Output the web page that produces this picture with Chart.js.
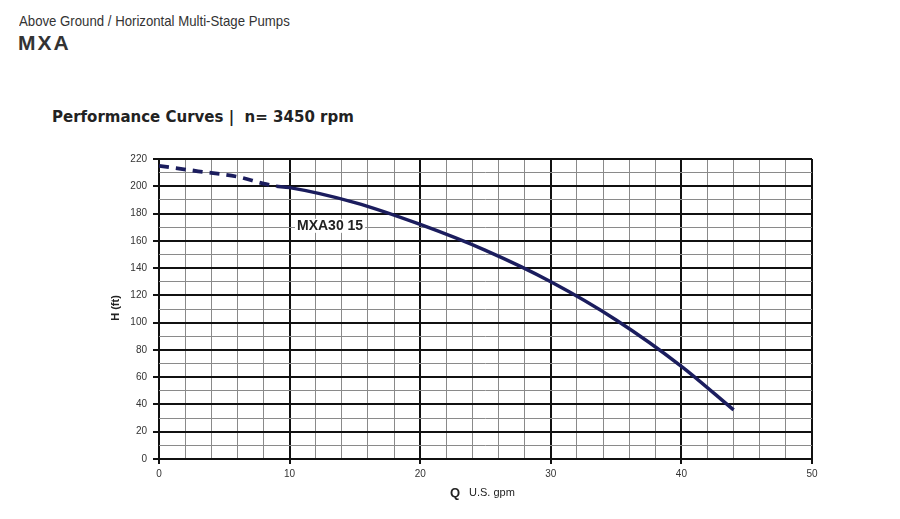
<!DOCTYPE html>
<html>
<head>
<meta charset="utf-8">
<script src="https://cdn.jsdelivr.net/npm/chart.js@4"></script>
<style>
  body { margin: 0; background: #fff; }
  #wrap { position: relative; width: 900px; height: 519px; }
  .hdr { position: absolute; color: #222; white-space: nowrap; }
  #sub { left: 19px; top: 12px; font: 15px "Liberation Sans", sans-serif; color: #333; transform: scaleX(0.88); transform-origin: left top; }
  #model { left: 18px; top: 31px; font: bold 21px "Liberation Sans", sans-serif; color: #333; letter-spacing: 2px; }
  #perf { left: 52px; top: 108px; font: 600 15px "DejaVu Sans", sans-serif; color: #222; }
  canvas { position: absolute; left: 0; top: 0; }
</style>
</head>
<body>
<div id="wrap">
  <div class="hdr" id="sub">Above Ground / Horizontal Multi-Stage Pumps</div>
  <div class="hdr" id="model">MXA</div>
  <div class="hdr" id="perf">Performance Curves |&nbsp; n= 3450 rpm</div>
  <canvas id="myChart" width="900" height="519"></canvas>
</div>
<script>
// flow (U.S. gpm) and head (ft)
const dashedQ = [0, 3, 6, 8, 9];
const dashedH = [215, 211, 207, 202, 200];
const solidQ = [9, 10, 15, 20, 25, 30, 35, 40, 44];
const solidH = [200, 199, 188, 172, 153, 130, 102, 68, 36];

const curveName = 'MXA30 15';
const curveLabelAt = [13.1, 171];

const navy = '#1b1d5e';

function toPoints(xs, ys) {
  return xs.map(function (x, i) { return { x: x, y: ys[i] }; });
}

// chart labels drawn on the canvas
const extras = {
  id: 'extras',
  afterDraw: function (chart) {
    const ctx = chart.ctx;
    const sx = chart.scales.x, sy = chart.scales.y;
    ctx.save();

    // curve name with white box
    const px = sx.getPixelForValue(curveLabelAt[0]);
    const py = sy.getPixelForValue(curveLabelAt[1]);
    ctx.font = 'bold 14px "Liberation Sans", Arial, sans-serif';
    const w = ctx.measureText(curveName).width;
    ctx.fillStyle = '#fff';
    ctx.fillRect(px - w / 2 - 2, py - 7, w + 4, 14);
    ctx.fillStyle = '#222';
    ctx.textAlign = 'center';
    ctx.textBaseline = 'middle';
    ctx.fillText(curveName, px, py);

    // x title
    ctx.textAlign = 'left';
    ctx.textBaseline = 'alphabetic';
    ctx.font = 'bold 13px "Liberation Sans", Arial, sans-serif';
    ctx.fillText('Q', 450, 497);
    ctx.font = '11px "Liberation Sans", Arial, sans-serif';
    ctx.fillText('U.S. gpm', 469, 496);

    // y title
    ctx.translate(119, 308);
    ctx.rotate(-Math.PI / 2);
    ctx.textAlign = 'center';
    ctx.font = 'bold 11px "Liberation Sans", Arial, sans-serif';
    ctx.fillText('H (ft)', 0, 0);
    ctx.restore();
  }
};

function gridColor(major) {
  return function (c) {
    return c.tick && c.tick.value % major === 0 ? '#111' : '#8a8a8a';
  };
}
function gridWidth(major) {
  return function (c) {
    return c.tick && c.tick.value % major === 0 ? 2 : 1;
  };
}
function tickColor(major) {
  return function (c) {
    return c.tick && c.tick.value % major === 0 ? '#111' : 'rgba(0,0,0,0)';
  };
}

const config = {
  type: 'scatter',
  data: {
    datasets: [{
      data: toPoints(dashedQ, dashedH),
      showLine: true,
      borderColor: navy,
      borderWidth: 3.8,
      borderDash: [10, 7],
      pointRadius: 0,
      cubicInterpolationMode: 'monotone'
    }, {
      data: toPoints(solidQ, solidH),
      showLine: true,
      borderColor: navy,
      borderWidth: 3.5,
      pointRadius: 0,
      cubicInterpolationMode: 'monotone'
    }]
  },
  options: {
    responsive: false,
    animation: false,
    layout: { padding: { left: 100, right: 88, top: 159, bottom: 30 } },
    plugins: { legend: { display: false }, tooltip: { enabled: false } },
    scales: {
      x: {
        type: 'linear',
        min: 0,
        max: 50,
        afterFit: function (s) { s.height = 30; },
        border: { display: false },
        grid: {
          color: gridColor(10),
          lineWidth: gridWidth(10),
          tickColor: tickColor(10),
          tickLength: 5
        },
        ticks: {
          stepSize: 2,
          autoSkip: false,
          maxRotation: 0,
          padding: 4,
          color: '#333',
          font: { family: '"Liberation Sans", Arial, sans-serif', size: 10 },
          callback: function (v) { return v % 10 === 0 ? v : ''; }
        }
      },
      y: {
        min: 0,
        max: 220,
        afterFit: function (s) { s.width = 59; },
        border: { display: false },
        grid: {
          color: gridColor(20),
          lineWidth: gridWidth(20),
          tickColor: tickColor(20),
          tickLength: 6
        },
        ticks: {
          stepSize: 10,
          autoSkip: false,
          padding: 6,
          color: '#333',
          font: { family: '"Liberation Sans", Arial, sans-serif', size: 10 },
          callback: function (v) { return v % 20 === 0 ? v : ''; }
        }
      }
    }
  },
  plugins: [extras]
};

const myChart = new Chart(document.getElementById('myChart'), config);
</script>
</body>
</html>
